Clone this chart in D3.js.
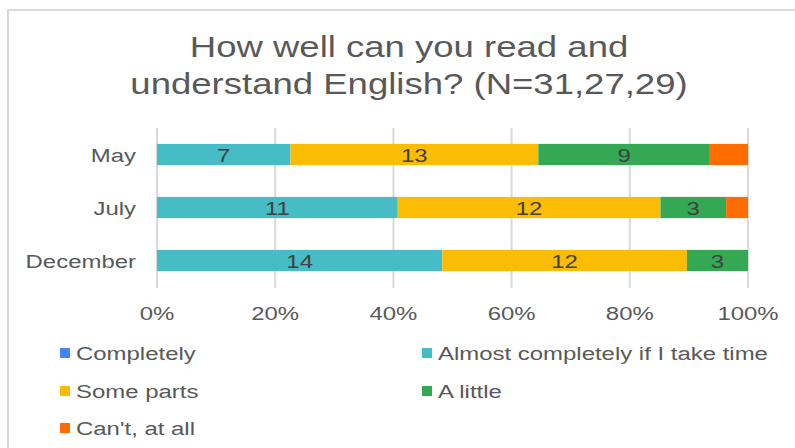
<!DOCTYPE html>
<html>
<head>
<meta charset="utf-8">
<script src="https://cdn.jsdelivr.net/npm/d3@7"></script>
<style>
  html, body { margin: 0; padding: 0; background: #fff; }
  svg { display: block; font-family: "Liberation Sans", Arial, sans-serif; }
</style>
</head>
<body>
<svg id="chart" width="795" height="448"></svg>
<script>
const titleLines = ["How well can you read and", "understand English? (N=31,27,29)"];
const categories = ["May", "July", "December"];
const seriesNames = ["Completely", "Almost completely if I take time", "Some parts", "A little", "Can't, at all"];
const seriesColors = ["#4285F4", "#46BDC6", "#FBBC04", "#34A853", "#FF6D01"];
const completely = [0, 0, 0];
const almost = [7, 11, 14];
const someParts = [13, 12, 12];
const aLittle = [9, 3, 3];
const cant = [2, 1, 0];
const tickValues = [0, 0.2, 0.4, 0.6, 0.8, 1.0];
const labeledSeries = [true, true, true, true, false];

const seriesValues = [completely, almost, someParts, aLittle, cant];
const SX = 1.26;

const svg = d3.select("#chart");

// border
svg.append("line").attr("x1", 8).attr("x2", 8).attr("y1", 10).attr("y2", 448)
  .attr("stroke", "#d9d9d9").attr("stroke-width", 2);
svg.append("line").attr("x1", 7).attr("x2", 795).attr("y1", 10).attr("y2", 10)
  .attr("stroke", "#d9d9d9").attr("stroke-width", 2);

function stretchedText(g, x, y, str, opts) {
  const t = g.append("text")
    .attr("transform", `translate(${x},${y}) scale(${SX},1)`)
    .attr("font-size", opts.size)
    .attr("fill", opts.fill)
    .attr("text-anchor", opts.anchor || "start")
    .attr("dominant-baseline", opts.baseline || "auto")
    .text(str);
  return t;
}

// title
titleLines.forEach((l, i) => {
  stretchedText(svg, 409, 57 + i * 37, l, { size: 29, fill: "#595959", anchor: "middle" });
});

const x = d3.scaleLinear().domain([0, 1]).range([157, 748]);
const y = d3.scaleBand().domain(categories).range([128, 287]).paddingInner(0.6).paddingOuter(0.3);

// gridlines
svg.append("g").selectAll("line").data(tickValues).join("line")
  .attr("x1", d => x(d)).attr("x2", d => x(d))
  .attr("y1", 128).attr("y2", 288)
  .attr("stroke", "#d9d9d9").attr("stroke-width", 2);

// stacked data
const rows = categories.map((c, ci) => {
  const obj = { cat: c };
  seriesNames.forEach((s, si) => obj[s] = seriesValues[si][ci]);
  return obj;
});
const totals = categories.map((c, ci) => d3.sum(seriesValues, sv => sv[ci]));
const stack = d3.stack().keys(seriesNames)
  .value((d, key) => d[key] / totals[categories.indexOf(d.cat)]);
const stacked = stack(rows);

const barsG = svg.append("g");
stacked.forEach((layer, si) => {
  barsG.append("g").attr("fill", seriesColors[si])
    .selectAll("rect").data(layer).join("rect")
    .attr("x", d => x(d[0]))
    .attr("width", d => Math.max(0, x(d[1]) - x(d[0])))
    .attr("y", d => y(d.data.cat))
    .attr("height", y.bandwidth());
});

// data labels
const labG = svg.append("g");
stacked.forEach((layer, si) => {
  if (!labeledSeries[si]) return;
  layer.forEach(d => {
    const v = d.data[seriesNames[si]];
    if (!v) return;
    stretchedText(labG, (x(d[0]) + x(d[1])) / 2, y(d.data.cat) + y.bandwidth() / 2 + 7, String(v),
      { size: 19, fill: "#404040", anchor: "middle" });
  });
});

// category labels
categories.forEach(c => {
  stretchedText(svg, 136, y(c) + y.bandwidth() / 2 + 7, c, { size: 19, fill: "#595959", anchor: "end" });
});

// x tick labels
const fmt = d3.format(".0%");
tickValues.forEach(t => {
  stretchedText(svg, x(t), 320, fmt(t), { size: 19, fill: "#595959", anchor: "middle" });
});

// legend
const legendPos = [
  { x: 60, y: 353 }, { x: 422, y: 353 },
  { x: 60, y: 391 }, { x: 422, y: 391 },
  { x: 60, y: 428 }
];
seriesNames.forEach((s, i) => {
  const p = legendPos[i];
  svg.append("rect").attr("x", p.x).attr("y", p.y - 5).attr("width", 10).attr("height", 10)
    .attr("fill", seriesColors[i]);
  stretchedText(svg, p.x + 16, p.y + 7, s, { size: 19, fill: "#595959" });
});
</script>
</body>
</html>
